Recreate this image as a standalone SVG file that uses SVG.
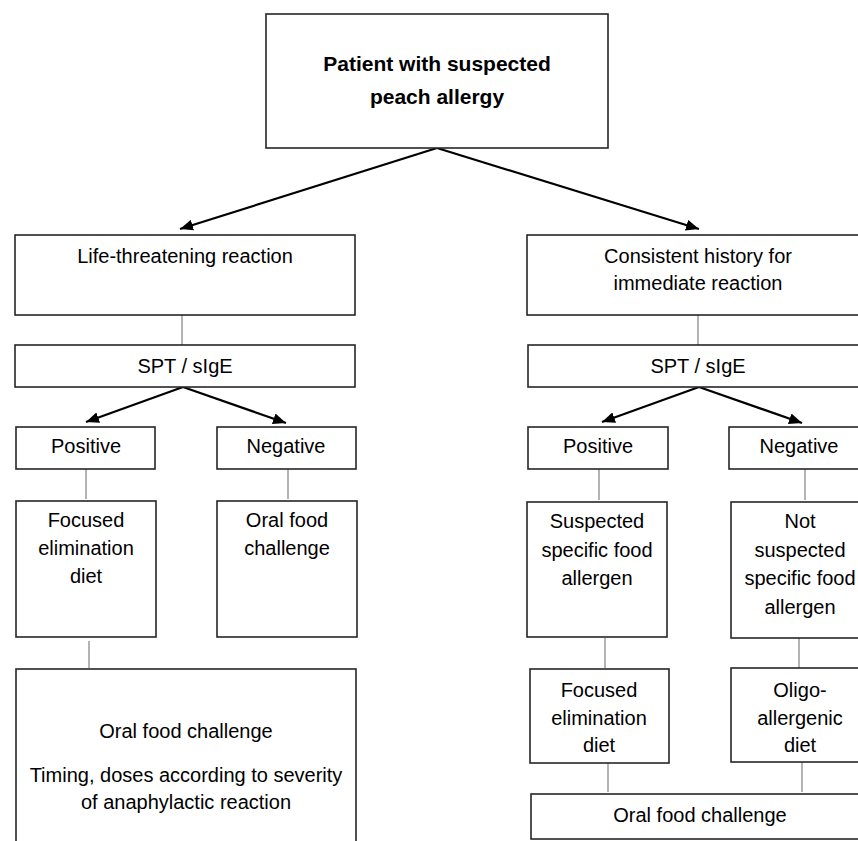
<svg xmlns="http://www.w3.org/2000/svg" width="858" height="841" viewBox="0 0 858 841">
<defs>
<style>
.box{fill:#fff;stroke:#262626;stroke-width:1.6}
.t{font-family:"Liberation Sans",Arial,sans-serif;font-size:20px;fill:#000;text-anchor:middle}
.tb{font-family:"Liberation Sans",Arial,sans-serif;font-size:21px;font-weight:bold;fill:#000;text-anchor:middle}
.ln{stroke:#808080;stroke-width:1.2;fill:none}
.ar{stroke:#000;stroke-width:2.2;fill:none;marker-end:url(#ah)}
</style>
<marker id="ah" markerUnits="userSpaceOnUse" markerWidth="14" markerHeight="11" refX="13" refY="5.5" orient="auto">
<path d="M0,0 L13,5.5 L0,11 z" fill="#000"/>
</marker>
</defs>
<rect width="858" height="841" fill="#fff"/>

<g id="connectors">
<line class="ar" x1="437" y1="148" x2="180" y2="229"/>
<line class="ar" x1="437" y1="148" x2="699" y2="229"/>
<line class="ln" x1="182" y1="315" x2="182" y2="345"/>
<line class="ln" x1="698" y1="315" x2="698" y2="345"/>
<line class="ar" x1="183" y1="387" x2="86" y2="422"/>
<line class="ar" x1="183" y1="387" x2="286" y2="423"/>
<line class="ar" x1="699" y1="387" x2="602" y2="422"/>
<line class="ar" x1="699" y1="387" x2="802" y2="423"/>
<line class="ln" x1="86" y1="469" x2="86" y2="499"/>
<line class="ln" x1="288" y1="469" x2="288" y2="499"/>
<line class="ln" x1="599" y1="469" x2="599" y2="500"/>
<line class="ln" x1="805" y1="469" x2="805" y2="500"/>
<line class="ln" x1="89" y1="641" x2="89" y2="668"/>
<line class="ln" x1="605" y1="638" x2="605" y2="668"/>
<line class="ln" x1="799" y1="638" x2="799" y2="668"/>
<line class="ln" x1="608" y1="763" x2="608" y2="792"/>
<line class="ln" x1="802" y1="762" x2="802" y2="792"/>
</g>

<g id="root">
<rect class="box" x="266" y="14" width="342" height="134"/>
<text class="tb" x="437" y="71">Patient with suspected</text>
<text class="tb" x="437" y="104">peach allergy</text>
</g>

<g id="life-threatening">
<rect class="box" x="15" y="235" width="340" height="80"/>
<text class="t" x="185" y="263">Life-threatening reaction</text>
</g>
<g id="spt-left">
<rect class="box" x="15" y="345" width="340" height="42"/>
<text class="t" x="185" y="373">SPT / sIgE</text>
</g>
<g id="positive-left">
<rect class="box" x="16" y="427" width="139" height="42"/>
<text class="t" x="86" y="453">Positive</text>
</g>
<g id="negative-left">
<rect class="box" x="217" y="427" width="139" height="42"/>
<text class="t" x="286" y="453">Negative</text>
</g>
<g id="focused-left">
<rect class="box" x="16" y="501" width="140" height="136"/>
<text class="t" x="86" y="527">Focused</text>
<text class="t" x="86" y="555">elimination</text>
<text class="t" x="86" y="583">diet</text>
</g>
<g id="ofc-left">
<rect class="box" x="217" y="501" width="140" height="136"/>
<text class="t" x="287" y="527">Oral food</text>
<text class="t" x="287" y="555">challenge</text>
</g>
<g id="ofc-severity">
<rect class="box" x="16" y="669" width="340" height="185"/>
<text class="t" x="186" y="738">Oral food challenge</text>
<text class="t" x="186" y="782">Timing, doses according to severity</text>
<text class="t" x="186" y="809">of anaphylactic reaction</text>
</g>

<g id="consistent-history">
<rect class="box" x="527" y="235" width="342" height="80"/>
<text class="t" x="698" y="263">Consistent history for</text>
<text class="t" x="698" y="290">immediate reaction</text>
</g>
<g id="spt-right">
<rect class="box" x="528" y="345" width="341" height="42"/>
<text class="t" x="698" y="373">SPT / sIgE</text>
</g>
<g id="positive-right">
<rect class="box" x="528" y="427" width="140" height="42"/>
<text class="t" x="598" y="453">Positive</text>
</g>
<g id="negative-right">
<rect class="box" x="729" y="427" width="140" height="42"/>
<text class="t" x="799" y="453">Negative</text>
</g>
<g id="suspected">
<rect class="box" x="527" y="502" width="140" height="135"/>
<text class="t" x="597" y="528">Suspected</text>
<text class="t" x="597" y="557">specific food</text>
<text class="t" x="597" y="585">allergen</text>
</g>
<g id="not-suspected">
<rect class="box" x="731" y="502" width="138" height="136"/>
<text class="t" x="800" y="528">Not</text>
<text class="t" x="800" y="557">suspected</text>
<text class="t" x="800" y="585">specific food</text>
<text class="t" x="800" y="614">allergen</text>
</g>
<g id="focused-right">
<rect class="box" x="530" y="669" width="139" height="94"/>
<text class="t" x="599" y="697">Focused</text>
<text class="t" x="599" y="725">elimination</text>
<text class="t" x="599" y="752">diet</text>
</g>
<g id="oligo">
<rect class="box" x="731" y="668" width="138" height="94"/>
<text class="t" x="800" y="697">Oligo-</text>
<text class="t" x="800" y="725">allergenic</text>
<text class="t" x="800" y="752">diet</text>
</g>
<g id="ofc-right">
<rect class="box" x="531" y="794" width="338" height="45"/>
<text class="t" x="700" y="822">Oral food challenge</text>
</g>
</svg>
